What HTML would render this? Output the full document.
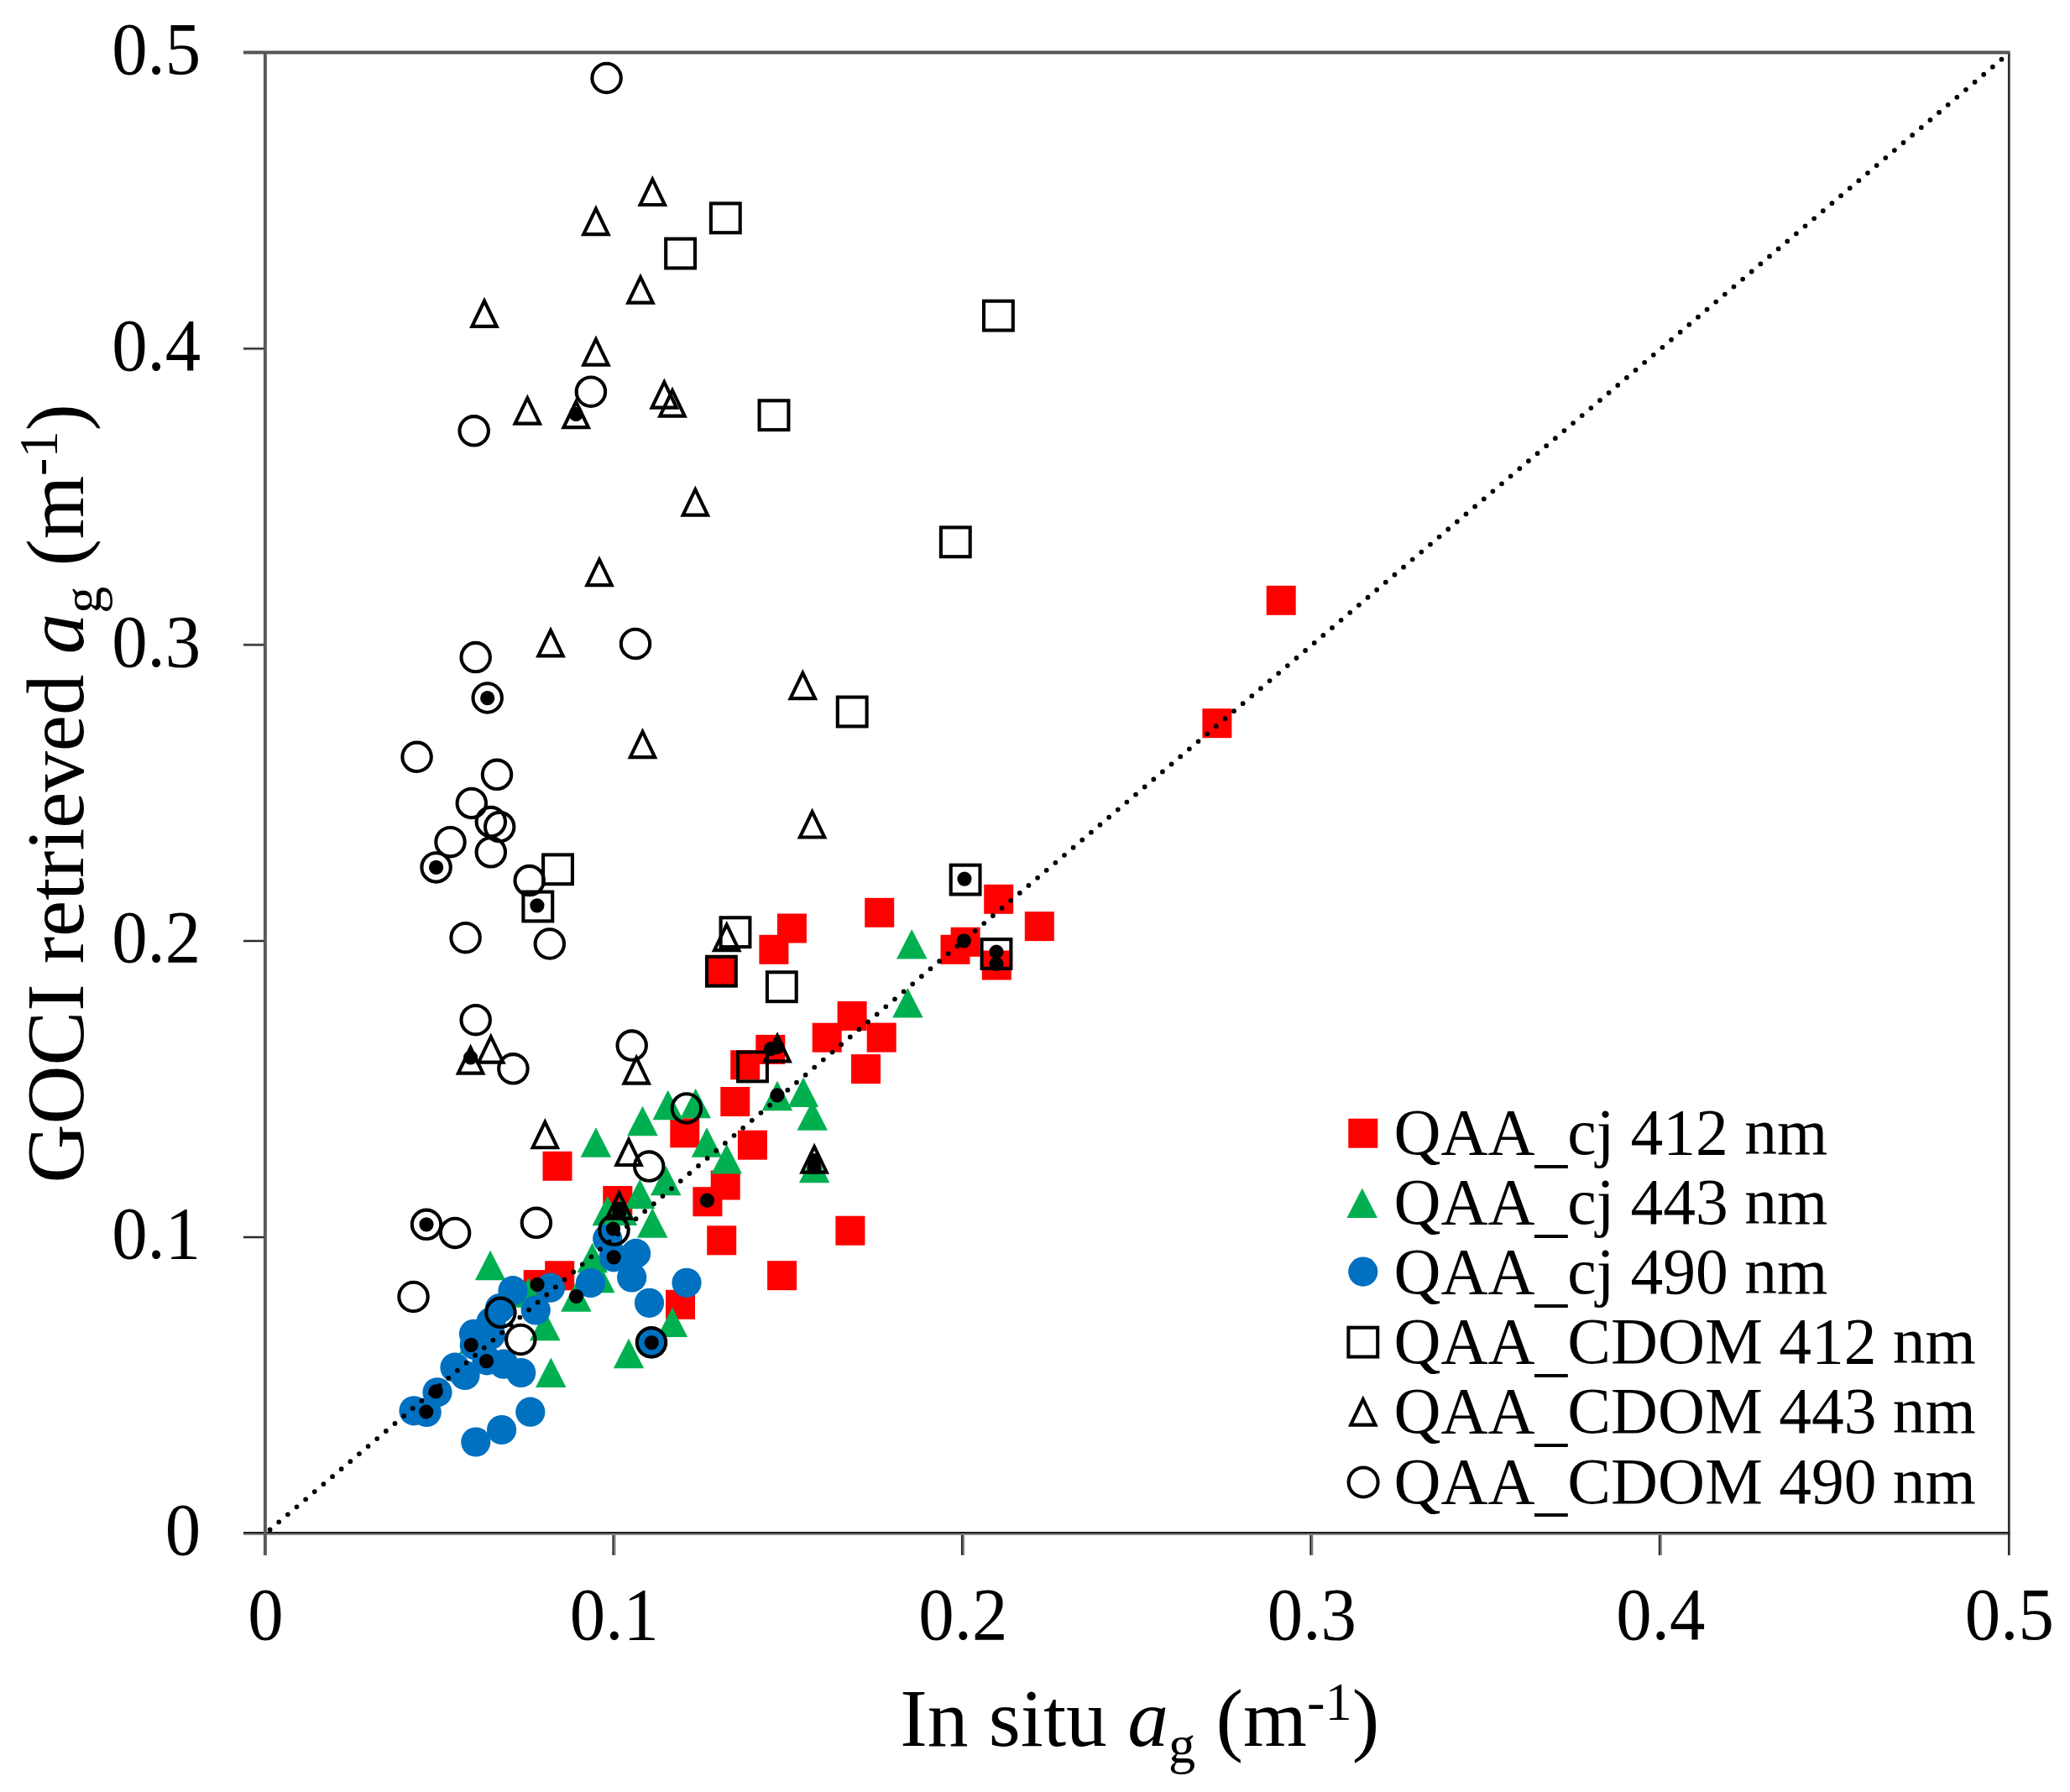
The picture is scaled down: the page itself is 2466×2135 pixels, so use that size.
<!DOCTYPE html>
<html lang="en"><head><meta charset="utf-8"><title>GOCI retrieved ag vs in situ ag</title>
<style>
html,body{margin:0;padding:0;background:#fff;}
body{width:2466px;height:2135px;overflow:hidden;}
svg{display:block;}
text{font-family:"Liberation Serif", serif;fill:#000;}
.tk{font-size:87.3px;}
.ti{font-size:97px;}
.lg{font-size:77.5px;}
</style></head><body>
<svg width="2466" height="2135" viewBox="0 0 2466 2135">
<rect x="0" y="0" width="2466" height="2135" fill="#fff"/>
<g id="red" fill="#ff0000">
<rect x="646.5" y="1371.8" width="35" height="35"/>
<rect x="798.3" y="1332.3" width="35" height="35"/>
<rect x="858.3" y="1295" width="35" height="35"/>
<rect x="878.9" y="1346.7" width="35" height="35"/>
<rect x="846.7" y="1394.5" width="35" height="35"/>
<rect x="825.4" y="1414.2" width="35" height="35"/>
<rect x="718.3" y="1413" width="35" height="35"/>
<rect x="842.2" y="1460.3" width="35" height="35"/>
<rect x="649.2" y="1502.3" width="35" height="35"/>
<rect x="623.7" y="1513.1" width="35" height="35"/>
<rect x="793" y="1536.8" width="35" height="35"/>
<rect x="914.1" y="1502.2" width="35" height="35"/>
<rect x="995.4" y="1448.7" width="35" height="35"/>
<rect x="841.9" y="1139.7" width="35" height="35"/>
<rect x="925.9" y="1088.5" width="35" height="35"/>
<rect x="904.4" y="1113.8" width="35" height="35"/>
<rect x="1030.2" y="1069.8" width="35" height="35"/>
<rect x="1172.2" y="1053.8" width="35" height="35"/>
<rect x="1220.8" y="1086.1" width="35" height="35"/>
<rect x="1132.6" y="1104.8" width="35" height="35"/>
<rect x="1120.5" y="1113.8" width="35" height="35"/>
<rect x="1169.8" y="1132.5" width="35" height="35"/>
<rect x="997.6" y="1192.9" width="35" height="35"/>
<rect x="967.7" y="1218.7" width="35" height="35"/>
<rect x="1032.7" y="1218.6" width="35" height="35"/>
<rect x="1014" y="1256.1" width="35" height="35"/>
<rect x="900.3" y="1232.9" width="35" height="35"/>
<rect x="870.2" y="1251.2" width="35" height="35"/>
<rect x="1508.7" y="697.8" width="35" height="35"/>
<rect x="1432.4" y="844.2" width="35" height="35"/>
</g>
<g id="green" fill="#00b050">
<polygon points="795.7,1298.8 814,1334.3 777.5,1334.3"/>
<polygon points="828.7,1296.7 847,1332.2 810.5,1332.2"/>
<polygon points="765.5,1317.8 783.8,1353.2 747.2,1353.2"/>
<polygon points="709.9,1343.2 728.1,1378.7 691.6,1378.7"/>
<polygon points="842,1343.2 860.2,1378.7 823.8,1378.7"/>
<polygon points="865.7,1363 884,1398.5 847.5,1398.5"/>
<polygon points="793.2,1388.8 811.5,1424.2 775,1424.2"/>
<polygon points="762.3,1404.8 780.5,1440.2 744,1440.2"/>
<polygon points="723.7,1424.8 742,1460.3 705.5,1460.3"/>
<polygon points="741,1424.5 759.2,1460 722.8,1460"/>
<polygon points="777.3,1439.2 795.5,1474.7 759,1474.7"/>
<polygon points="584.1,1489.8 602.4,1525.3 565.9,1525.3"/>
<polygon points="705.6,1480.7 723.9,1516.2 687.4,1516.2"/>
<polygon points="714.2,1504.8 732.5,1540.3 696,1540.3"/>
<polygon points="686.4,1527.2 704.6,1562.8 668.1,1562.8"/>
<polygon points="629.2,1522.2 647.5,1557.8 611,1557.8"/>
<polygon points="649.3,1561.8 667.5,1597.2 631,1597.2"/>
<polygon points="801,1557.5 819.2,1593 782.8,1593"/>
<polygon points="749,1594.8 767.2,1630.2 730.8,1630.2"/>
<polygon points="656.3,1617.5 674.5,1653 638,1653"/>
<polygon points="565,1577.8 583.2,1613.3 546.8,1613.3"/>
<polygon points="1086.2,1107 1104.5,1142.5 1068,1142.5"/>
<polygon points="1081.4,1177 1099.7,1212.5 1063.2,1212.5"/>
<polygon points="926,1287.8 944.2,1323.2 907.8,1323.2"/>
<polygon points="957,1283.5 975.2,1319 938.8,1319"/>
<polygon points="967.8,1311.2 986,1346.8 949.5,1346.8"/>
<polygon points="970.1,1373.8 988.4,1409.2 951.9,1409.2"/>
</g>
<g id="blue" fill="#0070c0">
<circle cx="723.7" cy="1476" r="17.6"/>
<circle cx="731.1" cy="1497.8" r="17.6"/>
<circle cx="757.6" cy="1493.4" r="17.6"/>
<circle cx="752.7" cy="1522" r="17.6"/>
<circle cx="703.5" cy="1528.5" r="17.6"/>
<circle cx="818" cy="1528.3" r="17.6"/>
<circle cx="773.5" cy="1552.3" r="17.6"/>
<circle cx="611" cy="1537.7" r="17.6"/>
<circle cx="655.5" cy="1534.2" r="17.6"/>
<circle cx="595.5" cy="1558.5" r="17.6"/>
<circle cx="638.2" cy="1561" r="17.6"/>
<circle cx="564.5" cy="1589.3" r="17.6"/>
<circle cx="580" cy="1620.8" r="17.6"/>
<circle cx="600" cy="1625.2" r="17.6"/>
<circle cx="620.7" cy="1635.5" r="17.6"/>
<circle cx="542" cy="1629.2" r="17.6"/>
<circle cx="554" cy="1638.5" r="17.6"/>
<circle cx="521" cy="1658.8" r="17.6"/>
<circle cx="508.2" cy="1682.5" r="17.6"/>
<circle cx="493" cy="1680.8" r="17.6"/>
<circle cx="566.8" cy="1718" r="17.6"/>
<circle cx="597.6" cy="1703.5" r="17.6"/>
<circle cx="631.8" cy="1682.2" r="17.6"/>
<circle cx="776.3" cy="1600.8" r="17.6"/>
<circle cx="585" cy="1575" r="17.6"/>
<circle cx="584.5" cy="1590.5" r="17.6"/>
<circle cx="565.3" cy="1602.5" r="17.6"/>
</g>
<line x1="321.6" y1="1822.4" x2="2393.3" y2="63.2" stroke="#000" stroke-width="5.8" stroke-linecap="round" stroke-dasharray="0 13.95"/>
<g id="osq" fill="none" stroke="#000" stroke-width="4.1">
<rect x="846.9" y="242.4" width="34.8" height="34.8"/>
<rect x="793.2" y="284.6" width="34.8" height="34.8"/>
<rect x="1172" y="358.7" width="34.8" height="34.8"/>
<rect x="904.6" y="477.3" width="34.8" height="34.8"/>
<rect x="1120.9" y="628.4" width="34.8" height="34.8"/>
<rect x="997.8" y="830.6" width="34.8" height="34.8"/>
<rect x="647.1" y="1018.4" width="34.8" height="34.8"/>
<rect x="623.4" y="1062.6" width="34.8" height="34.8"/>
<rect x="858.6" y="1093.3" width="34.8" height="34.8"/>
<rect x="842" y="1139.8" width="34.8" height="34.8"/>
<rect x="1132.7" y="1030.7" width="34.8" height="34.8"/>
<rect x="913.9" y="1158.3" width="34.8" height="34.8"/>
<rect x="1169.6" y="1119.1" width="34.8" height="34.8"/>
<rect x="879.1" y="1253.5" width="34.8" height="34.8"/>
</g>
<g id="otr" fill="none" stroke="#000" stroke-width="4.1" stroke-linejoin="miter">
<polygon points="777.3,213.6 792,244 762.6,244"/>
<polygon points="709.9,248.7 724.6,279.1 695.2,279.1"/>
<polygon points="763,330.2 777.7,360.6 748.3,360.6"/>
<polygon points="577,358.5 591.7,388.9 562.3,388.9"/>
<polygon points="709.9,404.2 724.6,434.6 695.2,434.6"/>
<polygon points="628.3,474.2 643,504.6 613.6,504.6"/>
<polygon points="686.2,478.7 700.9,509.1 671.5,509.1"/>
<polygon points="791.3,455.2 806,485.6 776.6,485.6"/>
<polygon points="801,465.2 815.7,495.6 786.3,495.6"/>
<polygon points="828.3,583.2 843,613.6 813.6,613.6"/>
<polygon points="714,666.7 728.7,697.1 699.3,697.1"/>
<polygon points="656,751 670.7,781.4 641.3,781.4"/>
<polygon points="765.5,871.7 780.2,902.1 750.8,902.1"/>
<polygon points="956.3,801.7 971,832.1 941.6,832.1"/>
<polygon points="967.6,967.1 982.3,997.5 952.9,997.5"/>
<polygon points="865.7,1101.7 880.4,1132.1 851,1132.1"/>
<polygon points="560.6,1248.2 575.3,1278.6 545.9,1278.6"/>
<polygon points="584.8,1235.2 599.5,1265.6 570.1,1265.6"/>
<polygon points="758.2,1260.2 772.9,1290.6 743.5,1290.6"/>
<polygon points="649.3,1336.8 664,1367.2 634.6,1367.2"/>
<polygon points="749,1357.6 763.7,1388 734.3,1388"/>
<polygon points="737.5,1421.2 752.2,1451.6 722.8,1451.6"/>
<polygon points="926,1234 940.7,1264.4 911.3,1264.4"/>
<polygon points="970.1,1366.2 984.8,1396.6 955.4,1396.6"/>
</g>
<g id="ocr" fill="none" stroke="#000" stroke-width="4.1">
<circle cx="722.6" cy="93" r="17.2"/>
<circle cx="703.9" cy="466.7" r="17.2"/>
<circle cx="564.7" cy="513.3" r="17.2"/>
<circle cx="757" cy="767" r="17.2"/>
<circle cx="566.7" cy="783.1" r="17.2"/>
<circle cx="580.7" cy="831.5" r="17.2"/>
<circle cx="496.6" cy="901.8" r="17.2"/>
<circle cx="592" cy="922.8" r="17.2"/>
<circle cx="561.8" cy="956.9" r="17.2"/>
<circle cx="584.8" cy="979.1" r="17.2"/>
<circle cx="595.2" cy="985.1" r="17.2"/>
<circle cx="536.5" cy="1003.2" r="17.2"/>
<circle cx="584.8" cy="1015.3" r="17.2"/>
<circle cx="519.6" cy="1033.4" r="17.2"/>
<circle cx="630.7" cy="1049.1" r="17.2"/>
<circle cx="554.6" cy="1117.2" r="17.2"/>
<circle cx="654.8" cy="1124.5" r="17.2"/>
<circle cx="566.7" cy="1215.2" r="17.2"/>
<circle cx="611.4" cy="1273.3" r="17.2"/>
<circle cx="752.7" cy="1245.6" r="17.2"/>
<circle cx="817.9" cy="1320.4" r="17.2"/>
<circle cx="773.2" cy="1389.6" r="17.2"/>
<circle cx="508" cy="1458.8" r="17.2"/>
<circle cx="542.1" cy="1468.9" r="17.2"/>
<circle cx="638.9" cy="1456.8" r="17.2"/>
<circle cx="731.5" cy="1465.6" r="17.2"/>
<circle cx="492.5" cy="1545" r="17.2"/>
<circle cx="596.4" cy="1563.8" r="17.2"/>
<circle cx="620.3" cy="1596" r="17.2"/>
<circle cx="776" cy="1599.3" r="17.2"/>
</g>
<g id="dots" fill="#000">
<circle cx="686.2" cy="493.3" r="8.6"/>
<circle cx="580.7" cy="831.7" r="8.6"/>
<circle cx="519.6" cy="1033.4" r="8.6"/>
<circle cx="639.9" cy="1078.8" r="8.6"/>
<circle cx="560.6" cy="1260" r="8.6"/>
<circle cx="508" cy="1458.8" r="8.6"/>
<circle cx="730.5" cy="1464" r="8.6"/>
<circle cx="738" cy="1444.5" r="8.6"/>
<circle cx="737.5" cy="1440" r="8.6"/>
<circle cx="731.1" cy="1497.8" r="8.6"/>
<circle cx="640" cy="1530.4" r="8.6"/>
<circle cx="686.5" cy="1544.3" r="8.6"/>
<circle cx="842.4" cy="1430.2" r="8.6"/>
<circle cx="561.2" cy="1602.3" r="8.6"/>
<circle cx="579.5" cy="1621.6" r="8.6"/>
<circle cx="519.2" cy="1657.8" r="8.6"/>
<circle cx="507.8" cy="1682" r="8.6"/>
<circle cx="776.3" cy="1599.6" r="8.6"/>
<circle cx="1149" cy="1047.1" r="8.6"/>
<circle cx="1148.3" cy="1120.8" r="8.6"/>
<circle cx="1187" cy="1134" r="8.6"/>
<circle cx="1187" cy="1148.5" r="8.6"/>
<circle cx="918.5" cy="1249.5" r="8.6"/>
<circle cx="926" cy="1247.5" r="8.6"/>
<circle cx="926" cy="1304.8" r="8.6"/>
<circle cx="970" cy="1382.5" r="8.6"/>
<circle cx="970" cy="1390.5" r="8.6"/>
</g>
<g fill="none" stroke-linecap="butt">
<path d="M290 1474 H315.9" stroke="#c6c6c6" stroke-width="4"/>
<path d="M290 1474 H315.9" stroke="#1a1a1a" stroke-width="1.8"/>
<path d="M290 1121.1 H315.9" stroke="#c6c6c6" stroke-width="4"/>
<path d="M290 1121.1 H315.9" stroke="#1a1a1a" stroke-width="1.8"/>
<path d="M290 768.3 H315.9" stroke="#c6c6c6" stroke-width="4"/>
<path d="M290 768.3 H315.9" stroke="#1a1a1a" stroke-width="1.8"/>
<path d="M290 415.4 H315.9" stroke="#c6c6c6" stroke-width="4"/>
<path d="M290 415.4 H315.9" stroke="#1a1a1a" stroke-width="1.8"/>
<path d="M732.4 1826.9 V1852.9" stroke="#777777" stroke-width="2"/>
<path d="M730.4 1826.9 V1852.9" stroke="#262626" stroke-width="2"/>
<path d="M1147.9 1826.9 V1852.9" stroke="#777777" stroke-width="2"/>
<path d="M1145.9 1826.9 V1852.9" stroke="#262626" stroke-width="2"/>
<path d="M1563.3 1826.9 V1852.9" stroke="#777777" stroke-width="2"/>
<path d="M1561.3 1826.9 V1852.9" stroke="#262626" stroke-width="2"/>
<path d="M1978.8 1826.9 V1852.9" stroke="#777777" stroke-width="2"/>
<path d="M1976.8 1826.9 V1852.9" stroke="#262626" stroke-width="2"/>
<path d="M290 1827.9 H2394.6" stroke="#858585" stroke-width="2"/>
<path d="M290 1825.9 H2394.6" stroke="#1c1c1c" stroke-width="2"/>
<path d="M315.9 62.5 V1852.9" stroke="#5a5a5a" stroke-width="4"/>
<path d="M2393.3 62.5 V1852.9" stroke="#2b2b2b" stroke-width="2.7"/>
<path d="M290 62.5 H2394.6" stroke="#555555" stroke-width="4"/>
</g>
<g class="tk" text-anchor="end">
<text transform="translate(239.2 1852) scale(0.972 1.01)">0</text>
<text transform="translate(239.2 1499.2) scale(0.972 1.01)">0.1</text>
<text transform="translate(239.2 1146.4) scale(0.972 1.01)">0.2</text>
<text transform="translate(239.2 793.6) scale(0.972 1.01)">0.3</text>
<text transform="translate(239.2 440.8) scale(0.972 1.01)">0.4</text>
<text transform="translate(239.2 88) scale(0.972 1.01)">0.5</text>
</g>
<g class="tk" text-anchor="middle">
<text transform="translate(316.4 1952.6) scale(0.972 1.01)">0</text>
<text transform="translate(731.9 1952.6) scale(0.972 1.01)">0.1</text>
<text transform="translate(1147.4 1952.6) scale(0.972 1.01)">0.2</text>
<text transform="translate(1562.9 1952.6) scale(0.972 1.01)">0.3</text>
<text transform="translate(1978.4 1952.6) scale(0.972 1.01)">0.4</text>
<text transform="translate(2393.9 1952.6) scale(0.972 1.01)">0.5</text>
</g>
<text class="ti" transform="translate(1072.2 2079.6) scale(1.006 1)">In situ <tspan font-style="italic">a</tspan><tspan font-size="64" dy="20">g</tspan><tspan dy="-20"> (m</tspan><tspan font-size="64" dy="-31">-1</tspan><tspan dy="31">)</tspan></text>
<text class="ti" transform="translate(99.4 1409.5) rotate(-90) scale(1 1.01)">GOCI retrieved <tspan font-style="italic">a</tspan><tspan font-size="64" dy="20">g</tspan><tspan dy="-20"> (m</tspan><tspan font-size="64" dy="-31">-1</tspan><tspan dy="31">)</tspan></text>
<rect x="1606.3" y="1332.7" width="35" height="35" fill="#ff0000"/>
<polygon fill="#00b050" points="1622.8,1415.4 1641,1450.9 1604.5,1450.9"/>
<circle fill="#0070c0" cx="1623.8" cy="1515.1" r="17.6"/>
<g fill="none" stroke="#000" stroke-width="4.1">
<rect x="1606.4" y="1581.7" width="34.8" height="34.8"/>
<polygon points="1623.8,1667.2 1638.5,1697.6 1609.1,1697.6"/>
<circle cx="1624.1" cy="1766" r="17.5"/>
</g>
<g class="lg">
<text x="1660.6" y="1375.2">QAA<tspan dy="6.8">_</tspan><tspan dy="-6.8">cj 412 nm</tspan></text>
<text x="1660.6" y="1458.3">QAA<tspan dy="6.8">_</tspan><tspan dy="-6.8">cj 443 nm</tspan></text>
<text x="1660.6" y="1541.3">QAA<tspan dy="6.8">_</tspan><tspan dy="-6.8">cj 490 nm</tspan></text>
<text x="1660.6" y="1624.4">QAA<tspan dy="6.8">_</tspan><tspan dy="-6.8">CDOM 412 nm</tspan></text>
<text x="1660.6" y="1707.4">QAA<tspan dy="6.8">_</tspan><tspan dy="-6.8">CDOM 443 nm</tspan></text>
<text x="1660.6" y="1790.5">QAA<tspan dy="6.8">_</tspan><tspan dy="-6.8">CDOM 490 nm</tspan></text>
</g>
</svg></body></html>
